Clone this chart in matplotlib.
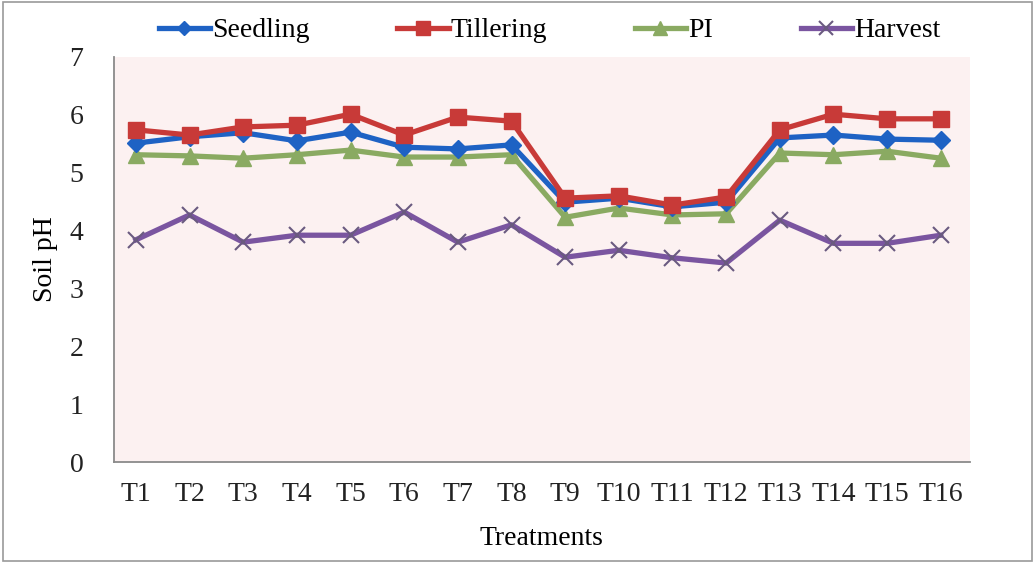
import matplotlib
matplotlib.use("Agg")
import matplotlib.pyplot as plt
from matplotlib.patches import Rectangle

treatments = ["T1", "T2", "T3", "T4", "T5", "T6", "T7", "T8",
              "T9", "T10", "T11", "T12", "T13", "T14", "T15", "T16"]
seedling = [5.51, 5.62, 5.69, 5.55, 5.70, 5.44, 5.41, 5.48,
            4.49, 4.56, 4.41, 4.49, 5.60, 5.65, 5.58, 5.56]
tillering = [5.74, 5.65, 5.79, 5.82, 6.01, 5.65, 5.96, 5.89,
             4.56, 4.60, 4.44, 4.58, 5.74, 6.01, 5.93, 5.93]
pi = [5.31, 5.29, 5.25, 5.31, 5.39, 5.27, 5.27, 5.31,
      4.23, 4.39, 4.27, 4.29, 5.34, 5.31, 5.37, 5.25]
harvest = [3.84, 4.27, 3.80, 3.92, 3.92, 4.32, 3.80, 4.10,
           3.54, 3.66, 3.53, 3.44, 4.18, 3.78, 3.78, 3.92]
yticks = [0, 1, 2, 3, 4, 5, 6, 7]

plt.rcParams['font.family'] = ['Liberation Serif', 'DejaVu Serif']

fig = plt.figure(figsize=(10.35, 5.63), dpi=100)
fig.patch.set_facecolor('white')
fig.patches.append(Rectangle((0.003, 0.004), 0.994, 0.992, transform=fig.transFigure,
                             fill=False, edgecolor='#9a9a9a', linewidth=1.2))
ax = fig.add_axes([0.110, 0.179, 0.827, 0.720])
ax.set_facecolor('#fcf1f1')

x = list(range(1, len(treatments) + 1))
ax.plot(x, seedling, color='#1e62c4', lw=3.8, marker='D', ms=9, label='Seedling', zorder=3)
ax.plot(x, tillering, color='#c83a38', lw=3.8, marker='s', ms=12, label='Tillering', zorder=4)
ax.plot(x, pi, color='#8aaa62', lw=3.8, marker='^', ms=12, label='PI', zorder=2)
ax.plot(x, harvest, color='#7a55a0', lw=3.8, marker='x', ms=12, mew=1.5,
        mec='#6a5a80', label='Harvest', zorder=2)

ax.set_xlim(0.59, 16.54)
ax.set_ylim(0, 7)
ax.set_yticks(yticks)
ax.set_xticks(x)
ax.set_xticklabels(treatments)
ax.tick_params(axis='both', labelsize=20, length=0, pad=14, colors='#222222')
ax.tick_params(axis='y', pad=22)
for s in ['top', 'right']:
    ax.spines[s].set_visible(False)
for s in ['left', 'bottom']:
    ax.spines[s].set_color('#8a8a8a')
    ax.spines[s].set_linewidth(1.3)
ax.set_ylabel('Soil pH', fontsize=20, labelpad=8)
ax.set_xlabel('Treatments', fontsize=20, labelpad=14)

ax.legend(loc='center', bbox_to_anchor=(0.509, 1.065), ncol=4, frameon=False,
          fontsize=20, columnspacing=3.15, handlelength=1.85, handletextpad=0.08,
          markerscale=0.8)

fig.savefig('out.png', dpi=100)
